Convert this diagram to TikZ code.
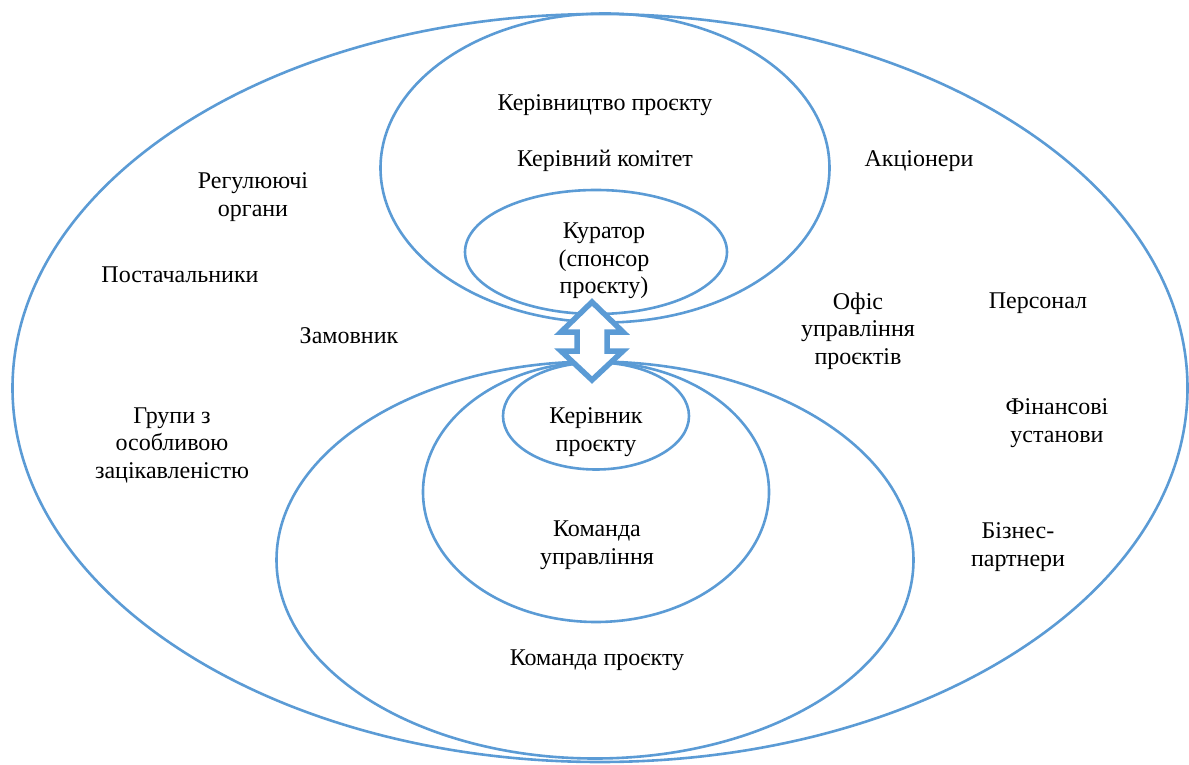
\documentclass[tikz,border=0pt]{standalone}
\usepackage{fontspec}
\IfFontExistsTF{LiberationSerif-Regular.ttf}
  {\newfontfamily\labelfont{LiberationSerif-Regular.ttf}}
  {\newfontfamily\labelfont{DejaVu Serif}}
\usetikzlibrary{shapes.geometric}
\definecolor{ringblue}{RGB}{91,155,213}
\begin{document}
\begin{tikzpicture}[x=1pt,y=-1pt,
  ring/.style={draw=ringblue, line width=2.6pt, ellipse, inner sep=0pt},
  lbl/.style={align=center, font=\labelfont\fontsize{24}{27.5}\selectfont, inner sep=0pt}]
\useasboundingbox (0,0) rectangle (1189,765);
% stakeholder circles
\node[ring, minimum width=1175, minimum height=748] (outer) at (600,388) {};
\node[ring, minimum width=449, minimum height=309] (mgmt) at (605,168) {};
\node[ring, minimum width=262, minimum height=124] (curator) at (596,252) {};
\node[ring, minimum width=637, minimum height=397] (team) at (595,560) {};
\node[ring, minimum width=346, minimum height=260] (core) at (596,492) {};
\node[ring, minimum width=186, minimum height=107] (pm) at (596,416) {};
% two-way link between sponsor and project manager
\draw[draw=ringblue, fill=white, line width=5.5pt, line join=miter]
  (592,302) -- (623,332) -- (607,332) -- (607,351) -- (623,351) -- (592,380)
  -- (561,351) -- (577,351) -- (577,332) -- (561,332) -- cycle;
% labels
\node[lbl] (t1) at (605,105) {Керівництво проєкту};
\node[lbl] (t2) at (605,161) {Керівний комітет};
\node[lbl] (t3) at (253,197) {Регулюючі\\органи};
\node[lbl] (t4) at (180,275) {Постачальники};
\node[lbl] (t5) at (349,336) {Замовник};
\node[lbl] (t6) at (172,445) {Групи з\\особливою\\зацікавленістю};
\node[lbl] (t7) at (604,261) {Куратор\\(спонсор\\проєкту)};
\node[lbl] (t8) at (919,161) {Акціонери};
\node[lbl] (t9) at (858,331) {Офіс\\управління\\проєктів};
\node[lbl] (t10) at (1038,303) {Персонал};
\node[lbl] (t11) at (1057,423) {Фінансові\\установи};
\node[lbl] (t12) at (1018,547) {Бізнес-\\партнери};
\node[lbl] (t13) at (596,432) {Керівник\\проєкту};
\node[lbl] (t14) at (597,545) {Команда\\управління};
\node[lbl] (t15) at (597,660) {Команда проєкту};
\end{tikzpicture}
\end{document}
